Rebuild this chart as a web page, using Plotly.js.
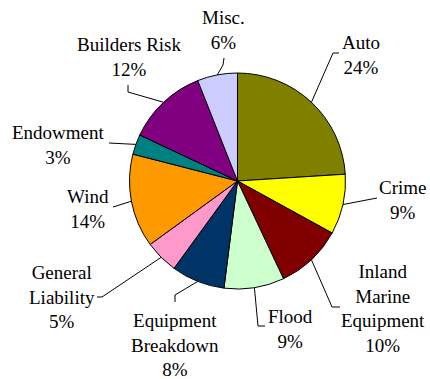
<!DOCTYPE html>
<html><head><meta charset="utf-8">
<script src="https://cdn.plot.ly/plotly-3.0.1.min.js"></script>
<style>html,body{margin:0;padding:0;background:#fff}#c{width:430px;height:379px}</style>
</head><body><div id="c"></div>
<script>
const categories = ["Auto","Crime","Inland Marine Equipment","Flood","Equipment Breakdown","General Liability","Wind","Endowment","Builders Risk","Misc."];
const values = [24, 9, 10, 9, 8, 5, 14, 3, 12, 6];
const labelText = ["Auto","Crime","Inland<br>Marine<br>Equipment","Flood","Equipment<br>Breakdown","General<br>Liability","Wind","Endowment","Builders Risk","Misc."];
const colors = ["#808000","#FFFF00","#800000","#CCFFCC","#003366","#FF99CC","#FF9900","#008080","#800080","#CCCCFF"];

// layout (pixels)
const W = 430, H = 379, CX = 237.5, CY = 181, R = 108;
// text block centre and leader-line bend points per label (pixels)
const textPos = [[361,55],[403,200],[383,308],[290,329],[175,345],[62,297],[88,209],[58,145],[129,57],[223,30]];
const bends = [
  [[333,53],[339,53]],
  [[377,198]],
  [[332,307],[340,307]],
  [[258,326],[265,326]],
  [[175,295],[175,302]],
  [[102,297],[97,297]],
  [[113,207]],
  [[109,143]],
  [[128,92],[128,85]],
  [[223,65],[224,58]]
];
const FONT = '"Times New Roman", "Liberation Serif", "DejaVu Serif", serif';

const px = x => x / W, py = y => 1 - y / H;
const total = values.reduce((a,b)=>a+b,0);
let cum = 0;
const shapes = [], annotations = [];
values.forEach((v,i)=>{
  const mid = (cum + v/2) / total * 2 * Math.PI; cum += v;
  const ex = CX + R * Math.sin(mid), ey = CY - R * Math.cos(mid);
  let path = `M ${px(ex)} ${py(ey)}`;
  bends[i].forEach(p => { path += ` L ${px(p[0])} ${py(p[1])}`; });
  shapes.push({type:'path', xref:'paper', yref:'paper', path, line:{color:'#000', width:1}});
  const pct = Math.round(v / total * 100) + '%';
  annotations.push({xref:'paper', yref:'paper', x:px(textPos[i][0]), y:py(textPos[i][1]),
    xanchor:'center', yanchor:'middle', showarrow:false, align:'center',
    text: labelText[i] + '<br>' + pct,
    font:{family:FONT, size:19, color:'#000'}});
});

const data = [{
  type:'pie', labels:categories, values:values, sort:false, direction:'clockwise', rotation:0,
  marker:{colors:colors, line:{color:'#000', width:1}},
  textinfo:'none', hoverinfo:'label+percent',
  domain:{x:[px(CX-R), px(CX+R)], y:[py(CY+R), py(CY-R)]}
}];
const layout = {width:W, height:H, margin:{l:0,r:0,t:0,b:0}, showlegend:false,
  font:{family:FONT},
  paper_bgcolor:'#fff', plot_bgcolor:'#fff', shapes, annotations};
Plotly.newPlot('c', data, layout, {displayModeBar:false, staticPlot:true});
</script></body></html>
